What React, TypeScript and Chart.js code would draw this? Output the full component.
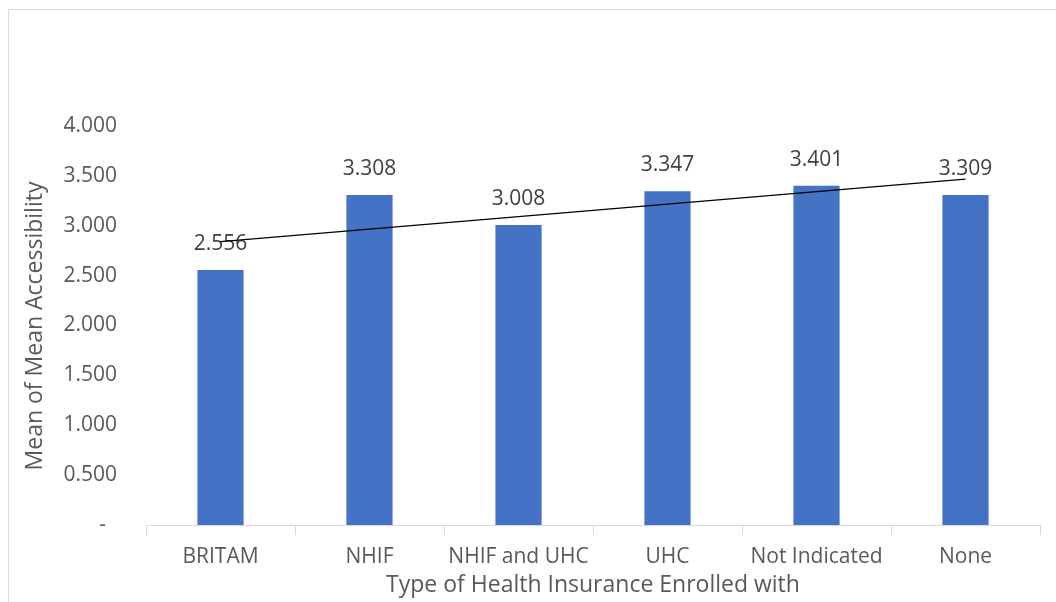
import React, { useEffect, useRef } from "react";
import { Chart, registerables } from "chart.js";

Chart.register(...registerables);

const categories = ["BRITAM", "NHIF", "NHIF and UHC", "UHC", "Not Indicated", "None"];
const meanAccessibility = [2.556, 3.308, 3.008, 3.347, 3.401, 3.309];
const yTicks = [0, 0.5, 1, 1.5, 2, 2.5, 3, 3.5, 4];

const xTitle = "Type of Health Insurance Enrolled with";
const yTitle = "Mean of Mean Accessibility";

const FONT = "'Open Sans', 'DejaVu Sans', sans-serif";
const BAR_COLOR = "#4472C4";
const TEXT_COLOR = "#595959";
const LABEL_COLOR = "#404040";
const AXIS_COLOR = "#d9d9d9";

// Least-squares linear trend over the category index (1..n)
function linearTrend(values: number[]): number[] {
  const n = values.length;
  const xs = values.map((_, i) => i + 1);
  const mx = xs.reduce((a, b) => a + b, 0) / n;
  const my = values.reduce((a, b) => a + b, 0) / n;
  let sxy = 0;
  let sxx = 0;
  for (let i = 0; i < n; i++) {
    sxy += (xs[i] - mx) * (values[i] - my);
    sxx += (xs[i] - mx) * (xs[i] - mx);
  }
  const slope = sxy / sxx;
  const intercept = my - slope * mx;
  return xs.map((x) => intercept + slope * x);
}

const valueLabels = {
  id: "valueLabels",
  beforeDatasetsDraw(chart: any) {
    const ctx = chart.ctx;
    const meta = chart.getDatasetMeta(0);
    ctx.save();
    ctx.font = `21px ${FONT}`;
    ctx.fillStyle = LABEL_COLOR;
    ctx.textAlign = "center";
    ctx.textBaseline = "middle";
    meta.data.forEach((bar: any, i: number) => {
      ctx.fillText(meanAccessibility[i].toFixed(3), bar.x, bar.y - 26);
    });
    ctx.restore();
  },
};

const axisTitles = {
  id: "axisTitles",
  afterDraw(chart: any) {
    const ctx = chart.ctx;
    const area = chart.chartArea;
    ctx.save();
    ctx.font = `23px ${FONT}`;
    ctx.fillStyle = TEXT_COLOR;
    ctx.textAlign = "center";
    ctx.textBaseline = "middle";
    ctx.fillText(xTitle, (area.left + area.right) / 2, 585);
    ctx.translate(35, 326);
    ctx.rotate(-Math.PI / 2);
    ctx.fillText(yTitle, 0, 0);
    ctx.restore();
  },
};

export default function App() {
  const canvasRef = useRef<HTMLCanvasElement | null>(null);

  useEffect(() => {
    if (!canvasRef.current) return;
    const trend = linearTrend(meanAccessibility);
    const chart = new Chart(canvasRef.current, {
      type: "bar",
      data: {
        labels: categories,
        datasets: [
          {
            type: "bar",
            label: "Mean of Mean Accessibility",
            data: meanAccessibility,
            backgroundColor: BAR_COLOR,
            borderWidth: 0,
            barPercentage: 0.62,
            categoryPercentage: 0.5,
            order: 1,
          },
          {
            type: "line",
            label: "Linear trend",
            data: trend,
            borderColor: "#000000",
            borderWidth: 1.3,
            pointRadius: 0,
            fill: false,
            tension: 0,
            order: 0,
          } as any,
        ],
      },
      options: {
        responsive: false,
        animation: false,
        layout: { padding: { left: 0, right: 16, top: 126, bottom: 0 } },
        plugins: {
          legend: { display: false },
          tooltip: { enabled: false },
          title: { display: false },
        },
        scales: {
          x: {
            offset: true,
            grid: {
              display: true,
              offset: true,
              drawOnChartArea: false,
              drawTicks: true,
              tickLength: 10,
              color: AXIS_COLOR,
            },
            border: { display: true, color: AXIS_COLOR, width: 1 },
            ticks: {
              color: TEXT_COLOR,
              font: { family: FONT, size: 21 },
              padding: 9,
              maxRotation: 0,
              autoSkip: false,
            },
            afterFit: (scale: any) => {
              scale.height = 77;
            },
          },
          y: {
            min: 0,
            max: 4,
            afterBuildTicks: (scale: any) => {
              scale.ticks = yTicks.map((v) => ({ value: v }));
            },
            grid: { display: false, drawTicks: false },
            border: { display: false },
            ticks: {
              color: TEXT_COLOR,
              font: { family: FONT, size: 21 },
              padding: 29,
              callback: (v: any) => (Number(v) === 0 ? "-  " : Number(v).toFixed(3)),
            },
            afterFit: (scale: any) => {
              scale.width = 146;
            },
          },
        },
      },
      plugins: [valueLabels, axisTitles],
    });
    return () => chart.destroy();
  }, []);

  return (
    <div style={{ position: "absolute", left: 0, top: 0, width: 1056, height: 602, background: "#ffffff", overflow: "hidden" }}>
      <div
        style={{
          position: "absolute",
          left: 8,
          top: 9,
          width: 1060,
          height: 600,
          borderLeft: `1px solid ${AXIS_COLOR}`,
          borderTop: `1px solid ${AXIS_COLOR}`,
        }}
      />
      <canvas ref={canvasRef} width={1056} height={602} style={{ position: "absolute", left: 0, top: 0 }} />
    </div>
  );
}
